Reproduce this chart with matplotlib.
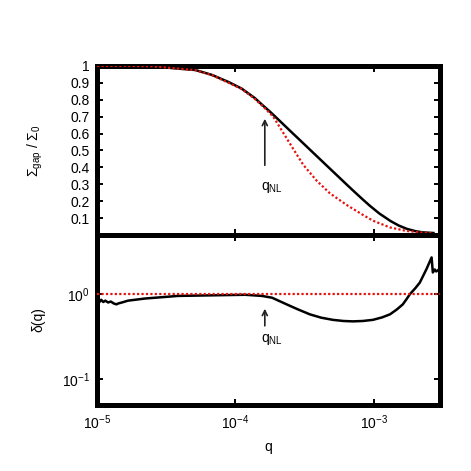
import numpy as np
import matplotlib
matplotlib.use('Agg')
import matplotlib.pyplot as plt
from matplotlib.ticker import FixedLocator, NullLocator, LogFormatterSciNotation

plt.rcParams['font.family'] = ['Liberation Sans', 'DejaVu Sans']
plt.rcParams['mathtext.fontset'] = 'custom'
plt.rcParams['mathtext.rm'] = 'Liberation Sans'
plt.rcParams['mathtext.it'] = 'Liberation Sans'
plt.rcParams['mathtext.bf'] = 'Liberation Sans:bold'
plt.rcParams['font.size'] = 10

# top panel: Sigma_gap / Sigma_0 (log10 q)
logq_sigma = [-5.0, -4.8, -4.6, -4.44, -4.29, -4.17, -4.05, -3.955, -3.86, -3.80,
              -3.751, -3.68, -3.606, -3.53, -3.462, -3.39, -3.318, -3.26, -3.197,
              -3.137, -3.077, -3.029, -2.96, -2.88, -2.82, -2.76, -2.70, -2.65, -2.57]
sigma_sim = [1.0, 1.0, 0.998, 0.986, 0.976, 0.947, 0.905, 0.866, 0.81, 0.765,
             0.73, 0.675, 0.617, 0.558, 0.505, 0.449, 0.393, 0.348, 0.299,
             0.253, 0.208, 0.173, 0.127, 0.083, 0.056, 0.036, 0.023, 0.016, 0.012]

logq_lin = [-5.0, -4.8, -4.6, -4.44, -4.29, -4.17, -4.05, -3.955, -3.86, -3.80,
            -3.727, -3.655, -3.583, -3.51, -3.414, -3.318, -3.197, -3.077, -3.007,
            -2.884, -2.764, -2.646, -2.58]
sigma_lin = [1.0, 1.0, 0.998, 0.986, 0.975, 0.946, 0.90, 0.864, 0.805, 0.76,
             0.70, 0.605, 0.51, 0.415, 0.322, 0.247, 0.178, 0.118, 0.085,
             0.045, 0.024, 0.014, 0.01]

# bottom panel: delta(q)
logq_delta = [-5.0, -4.985, -4.97, -4.955, -4.94, -4.92, -4.90, -4.88, -4.86, -4.845,
              -4.82, -4.776, -4.653, -4.415, -4.170, -3.931, -3.809, -3.736, -3.630,
              -3.55, -3.462, -3.38, -3.296, -3.22, -3.152, -3.08, -3.007, -2.94,
              -2.884, -2.835, -2.791, -2.765, -2.740, -2.70, -2.668, -2.620,
              -2.583, -2.574, -2.56, -2.55, -2.538, -2.525]
delta = [0.88, 0.80, 0.86, 0.81, 0.84, 0.80, 0.82, 0.78, 0.76, 0.78,
         0.80, 0.84, 0.89, 0.955, 0.97, 0.985, 0.955, 0.91, 0.76,
         0.665, 0.58, 0.53, 0.50, 0.485, 0.48, 0.485, 0.50, 0.535,
         0.58, 0.66, 0.76, 0.87, 1.0, 1.18, 1.37, 1.97,
         2.7, 1.8, 1.95, 1.85, 1.9, 2.0]
logq_ref = [-5.0, -2.52]
delta_ref = [1.0, 1.0]

top_yticks = [0.1, 0.2, 0.3, 0.4, 0.5, 0.6, 0.7, 0.8, 0.9, 1.0]
top_ylabels = ['0.1', '0.2', '0.3', '0.4', '0.5', '0.6', '0.7', '0.8', '0.9', '1']
q_nl = 1.63e-4

xmin, xmax = 1e-5, 3.0e-3

fig = plt.figure(figsize=(4.71, 4.71), dpi=100)
ax1 = fig.add_axes([0.206, 0.501, 0.728, 0.359])
ax2 = fig.add_axes([0.206, 0.140, 0.728, 0.361])

red = '#e8120c'
for ax in (ax1, ax2):
    ax.set_xscale('log')
    ax.set_xlim(xmin, xmax)
    for s in ax.spines.values():
        s.set_linewidth(3.6)
    ax.tick_params(which='major', direction='in', length=4, width=1.4,
                   top=True, right=True, labelsize=10)
    ax.xaxis.set_major_locator(FixedLocator([1e-5, 1e-4, 1e-3]))
    ax.xaxis.set_minor_locator(NullLocator())

ax1.plot(10 ** np.array(logq_sigma), sigma_sim, color='black', lw=1.8, zorder=3)
ax1.plot(10 ** np.array(logq_lin), sigma_lin, color=red, lw=1.6,
         linestyle=(0, (1, 1)), zorder=4)
ax1.set_ylim(0, 1)
ax1.yaxis.set_major_locator(FixedLocator(top_yticks))
ax1.set_yticklabels(top_ylabels)
ax1.tick_params(axis='x', labelbottom=False)
ax1.tick_params(axis='y', pad=5)
ax1.set_ylabel(r'$\mathregular{\Sigma_{gap}\ /\ \Sigma_0}$', fontsize=10)
ax1.yaxis.set_label_coords(-0.152, 0.5)
ax1.annotate('', xy=(q_nl, 0.704), xytext=(q_nl, 0.396),
             arrowprops=dict(arrowstyle='->', color='#222222', lw=1.2, mutation_scale=9))
ax1.text(1.52e-4, 0.284, r'$\mathregular{q_{NL}}$', ha='left', va='center', fontsize=10)

ax2.plot(10 ** np.array(logq_delta), delta, color='black', lw=1.8, zorder=3)
ax2.plot(10 ** np.array(logq_ref), delta_ref, color=red, lw=1.6,
         linestyle=(0, (1, 1)), zorder=4)
ax2.set_yscale('log')
ax2.set_ylim(0.05, 4.95)
ax2.yaxis.set_major_locator(FixedLocator([0.1, 1.0]))
ax2.yaxis.set_minor_locator(NullLocator())
ax2.yaxis.set_major_formatter(LogFormatterSciNotation())
ax2.xaxis.set_major_formatter(LogFormatterSciNotation())
ax2.tick_params(axis='y', pad=5)
ax2.tick_params(axis='x', pad=6)
ax2.set_ylabel('δ(q)', fontsize=10)
ax2.yaxis.set_label_coords(-0.152, 0.5)
ax2.set_xlabel('q', fontsize=10, labelpad=6)
ax2.annotate('', xy=(q_nl, 0.728), xytext=(q_nl, 0.395),
             arrowprops=dict(arrowstyle='->', color='#222222', lw=1.2, mutation_scale=9))
ax2.text(1.52e-4, 0.295, r'$\mathregular{q_{NL}}$', ha='left', va='center', fontsize=10)

fig.savefig('out.png', dpi=100)
